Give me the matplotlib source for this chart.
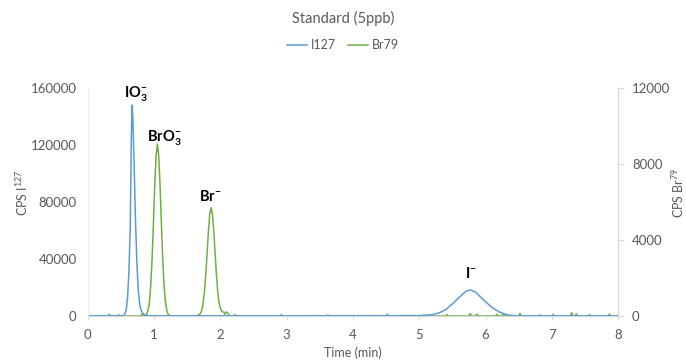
import numpy as np
from matplotlib import pyplot as plt

# I127 trace (left axis, CPS)
t_i = [0.0, 0.3, 0.5, 0.54, 0.56, 0.58, 0.6, 0.62, 0.64, 0.65, 0.66, 0.67, 0.68,
       0.70, 0.72, 0.74, 0.76, 0.78, 0.8, 0.83, 0.86, 0.9, 1.5, 3.0, 4.5, 5.0,
       5.2, 5.3, 5.4, 5.5, 5.6, 5.7, 5.77, 5.85, 5.9, 6.0, 6.1, 6.2, 6.3, 6.4,
       6.5, 7.0, 8.0]
cps_i = [200, 250, 200, 400, 1500, 4500, 13000, 31000, 62000, 100000, 135000,
         148000, 138000, 104000, 66000, 38000, 19000, 9000, 4500, 1800, 700,
         200, 200, 200, 250, 300, 1000, 2200, 4500, 8500, 13000, 17200, 18300,
         16800, 14500, 10000, 6000, 3000, 1200, 400, 150, 150, 150]

# Br79 trace (right axis, CPS)
t_br = [0.0, 0.3, 0.32, 0.34, 0.45, 0.47, 0.49, 0.8, 0.82, 0.84,
        0.86, 0.89, 0.91, 0.93, 0.95, 0.97, 0.99, 1.01, 1.03, 1.05,
        1.07, 1.09, 1.11, 1.13, 1.15, 1.17, 1.19, 1.21, 1.25,
        1.64, 1.70, 1.72, 1.74, 1.76, 1.78, 1.80, 1.82, 1.84, 1.86,
        1.88, 1.90, 1.92, 1.94, 1.96, 1.98, 2.00, 2.02, 2.05, 2.07,
        2.09, 2.11, 2.14,
        2.2, 2.22, 2.24, 2.9, 2.92, 2.94, 3.6, 3.62, 3.64,
        4.5, 4.52, 4.54, 5.4, 5.42, 5.44, 5.75, 5.77, 5.79,
        5.85, 5.87, 5.89, 6.15, 6.17, 6.19, 6.25, 6.27, 6.29,
        6.5, 6.52, 6.54, 6.8, 6.82, 6.84, 7.0, 7.02, 7.04,
        7.28, 7.3, 7.32, 7.35, 7.37, 7.39, 7.55, 7.57, 7.59,
        7.85, 7.87, 7.89, 8.0]
cps_br = [0, 0, 90, 0, 0, 60, 0, 0, 110, 0,
          0, 110, 320, 770, 1630, 3020, 4880, 6880, 8450, 9050,
          8450, 6880, 4880, 3020, 1630, 770, 320, 110, 0,
          0, 125, 310, 670, 1290, 2200, 3330, 4490, 5370, 5700,
          5370, 4490, 3330, 2200, 1290, 700, 400, 250, 200, 100,
          220, 150, 0,
          0, 80, 0, 0, 70, 0, 0, 60, 0,
          0, 90, 0, 0, 70, 0, 0, 130, 0,
          0, 100, 0, 0, 90, 0, 0, 120, 0,
          0, 140, 0, 0, 60, 0, 0, 90, 0,
          0, 180, 0, 0, 120, 0, 0, 80, 0,
          0, 100, 0, 0]

xticks = np.arange(0, 9, 1)
left_ticks = [0, 40000, 80000, 120000, 160000]
right_ticks = [0, 4000, 8000, 12000]

blue = '#5B9BD5'
green = '#70AD47'
grey = '#595959'
axcol = '#D9D9D9'

plt.rcParams['font.family'] = ['Lato', 'DejaVu Sans']
plt.rcParams['mathtext.fontset'] = 'custom'
plt.rcParams['mathtext.rm'] = 'Lato'
plt.rcParams['mathtext.it'] = 'Lato:italic'
plt.rcParams['mathtext.bf'] = 'Lato:bold'

fig = plt.figure(figsize=(6.86, 3.62), dpi=100)
ax = fig.add_axes([0.128, 0.127, 0.773, 0.630])
ax2 = ax.twinx()

l1, = ax.plot(t_i, cps_i, color=blue, lw=1.1, label='I127')
l2, = ax2.plot(t_br, cps_br, color=green, lw=1.1, label='Br79')
ax.set_zorder(ax2.get_zorder() + 1)
ax.patch.set_visible(False)

ax.set_xlim(0, 8)
ax.set_ylim(0, 160000)
ax2.set_ylim(0, 12000)
ax.set_xticks(xticks)
ax.set_yticks(left_ticks)
ax2.set_yticks(right_ticks)

for a in (ax, ax2):
    for s in a.spines.values():
        s.set_visible(False)
ax.spines['bottom'].set_visible(True)
ax.spines['bottom'].set_color(axcol)
ax.spines['left'].set_visible(True)
ax.spines['left'].set_color('#EEEEEE')
ax2.spines['right'].set_visible(True)
ax2.spines['right'].set_color(axcol)

ax.tick_params(axis='x', colors=grey, labelsize=9.5, length=3, color=axcol, pad=6)
ax.tick_params(axis='y', colors=grey, labelsize=9.5, length=0, pad=8)
ax2.tick_params(axis='y', colors=grey, labelsize=9.5, length=4, color=axcol, pad=6)

ax.set_xlabel('Time (min)', color=grey, fontsize=9, labelpad=4)
fig.text(22 / 686, 0.468, r'CPS I$^{127}$', rotation=90, ha='center',
         va='center', color=grey, fontsize=9)
fig.text(678 / 686, 0.468, r'CPS Br$^{79}$', rotation=90, ha='center',
         va='center', color=grey, fontsize=9)

lab = dict(ha='center', va='baseline', fontsize=10.5, fontweight='bold')
ax.text(0.72, 153500, r'IO$_\mathbf{3}^\mathbf{-}$', **lab)
ax2.text(1.15, 9200, r'BrO$_\mathbf{3}^\mathbf{-}$', **lab)
ax2.text(1.85, 6050, r'Br$^\mathbf{-}$', **lab)
ax.text(5.78, 26700, r'I$^\mathbf{-}$', **lab)

fig.text(0.5, 0.948, 'Standard (5ppb)', ha='center', va='center',
         color=grey, fontsize=10.5)
fig.legend(handles=[l1, l2], loc='center', bbox_to_anchor=(0.5, 0.875),
           ncol=2, frameon=False, fontsize=9, labelcolor=grey,
           handlelength=1.6, handletextpad=0.3, columnspacing=1.0)

fig.savefig('out.png', dpi=100)
